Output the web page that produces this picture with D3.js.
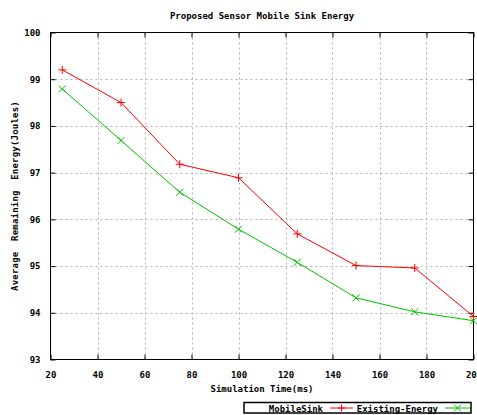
<!DOCTYPE html>
<html lang="en">
	<head>
		<meta charset="utf-8">
		<title>Proposed Sensor Mobile Sink Energy</title>
		<style type="text/css">
		body {
			background-color: white;
			margin: 0px;
			padding: 0px;
		}
		svg text {
			font-family: 'DejaVu Sans Mono', monospace;
			font-weight: bold;
			font-size: 9px;
			fill: black;
		}
		.grid line {
			stroke: #b4b4b4;
			stroke-dasharray: 2,3;
		}
		</style>
	</head>
	<body>
		<div id="chart"></div>
		<script src="https://d3js.org/d3.v7.min.js"></script>
		<script type="text/javascript">

			const times = [25, 50, 75, 100, 125, 150, 175, 200];
			const mobileSink = [99.2, 98.5, 97.18, 96.89, 95.69, 95.01, 94.96, 93.92];
			const existingEnergy = [98.79, 97.69, 96.58, 95.79, 95.08, 94.32, 94.02, 93.83];
			const xTicks = [20, 40, 60, 80, 100, 120, 140, 160, 180, 200];
			const yTicks = [93, 94, 95, 96, 97, 98, 99, 100];

			const width = 477,
			    height = 415,
			    plotLeft = 50.5, plotRight = 473.5, plotTop = 32.5, plotBottom = 359.5;

			const svg = d3.select("#chart")
			    .append("svg")
			    .attr("width", width)
			    .attr("height", height);

			const xScale = d3.scaleLinear()
			    .domain([20, 200])
			    .range([plotLeft, plotRight]);

			const yScale = d3.scaleLinear()
			    .domain([93, 100])
			    .range([plotBottom, plotTop]);

			// dotted grid
			const grid = svg.append("g").attr("class", "grid");
			grid.selectAll(null)
			    .data(xTicks.slice(1, -1))
			    .enter()
			    .append("line")
			    .attr("x1", function(d){ return Math.round(xScale(d)) + 0.5; })
			    .attr("x2", function(d){ return Math.round(xScale(d)) + 0.5; })
			    .attr("y1", plotTop)
			    .attr("y2", plotBottom);
			grid.selectAll(null)
			    .data(yTicks.slice(1, -1))
			    .enter()
			    .append("line")
			    .attr("y1", function(d){ return Math.round(yScale(d)) + 0.5; })
			    .attr("y2", function(d){ return Math.round(yScale(d)) + 0.5; })
			    .attr("x1", plotLeft)
			    .attr("x2", plotRight);

			// axes with inward ticks on all four sides
			const xAxisBottom = d3.axisBottom(xScale).tickValues(xTicks).tickSizeInner(-5).tickSizeOuter(0).tickPadding(12).tickFormat(d3.format("d"));
			const xAxisTop = d3.axisTop(xScale).tickValues(xTicks).tickSizeInner(-5).tickSizeOuter(0).tickFormat("");
			const yAxisLeft = d3.axisLeft(yScale).tickValues(yTicks).tickSizeInner(-5).tickSizeOuter(0).tickPadding(10).tickFormat(d3.format("d"));
			const yAxisRight = d3.axisRight(yScale).tickValues(yTicks).tickSizeInner(-5).tickSizeOuter(0).tickFormat("");

			function styleAxis(g){
				g.select(".domain").remove();
				g.selectAll("line").attr("stroke", "black");
				g.selectAll("text").style("font-size", "9px").style("font-family", "'DejaVu Sans Mono', monospace").style("font-weight", "bold");
			}

			svg.append("g").attr("transform", "translate(0," + plotBottom + ")").call(xAxisBottom).call(styleAxis);
			svg.append("g").attr("transform", "translate(0," + plotTop + ")").call(xAxisTop).call(styleAxis);
			svg.append("g").attr("transform", "translate(" + plotLeft + ",0)").call(yAxisLeft).call(styleAxis);
			svg.append("g").attr("transform", "translate(" + plotRight + ",0)").call(yAxisRight).call(styleAxis);

			svg.append("rect")
			    .attr("x", plotLeft)
			    .attr("y", plotTop)
			    .attr("width", plotRight - plotLeft)
			    .attr("height", plotBottom - plotTop)
			    .attr("fill", "none")
			    .attr("stroke", "black");

			const series = [
				{name: "MobileSink", values: mobileSink, color: "#ff0000", marker: "plus"},
				{name: "Existing-Energy", values: existingEnergy, color: "#00c000", marker: "cross"}
			];

			const line = d3.line()
			    .x(function(d){ return xScale(d[0]); })
			    .y(function(d){ return yScale(d[1]); });

			function markerPath(kind, x, y, s){
				if (kind === "plus") {
					return "M" + (x - s) + "," + y + "H" + (x + s) + "M" + x + "," + (y - s) + "V" + (y + s);
				}
				return "M" + (x - s) + "," + (y - s) + "L" + (x + s) + "," + (y + s) +
				    "M" + (x - s) + "," + (y + s) + "L" + (x + s) + "," + (y - s);
			}

			series.forEach(function(s){
				const pts = times.map(function(t, i){ return [t, s.values[i]]; });
				svg.append("path")
				    .datum(pts)
				    .attr("fill", "none")
				    .attr("stroke", s.color)
				    .attr("stroke-width", 1)
				    .attr("d", line);
				svg.selectAll(null)
				    .data(pts)
				    .enter()
				    .append("path")
				    .attr("fill", "none")
				    .attr("stroke", s.color)
				    .attr("stroke-width", 1)
				    .attr("d", function(d){ return markerPath(s.marker, xScale(d[0]), yScale(d[1]), s.marker === "plus" ? 4 : 3.5); });
			});

			// titles
			svg.append("text")
			    .attr("x", 262)
			    .attr("y", 19)
			    .attr("text-anchor", "middle")
			    .text("Proposed Sensor Mobile Sink Energy");

			svg.append("text")
			    .attr("x", 262)
			    .attr("y", 392)
			    .attr("text-anchor", "middle")
			    .text("Simulation Time(ms)");

			svg.append("text")
			    .attr("transform", "translate(18,196) rotate(-90)")
			    .attr("text-anchor", "middle")
			    .style("word-spacing", "5px")
			    .style("letter-spacing", "0.2px")
			    .text("Average Remaining Energy(Joules)");

			// legend
			const legend = svg.append("g");
			legend.append("rect")
			    .attr("x", 244)
			    .attr("y", 402.5)
			    .attr("width", 227)
			    .attr("height", 10.5)
			    .attr("fill", "white")
			    .attr("stroke", "black")
			    .attr("stroke-width", 1.5);

			const legendItems = [
				{textEnd: 323, lineX: [330, 353]},
				{textEnd: 438, lineX: [445, 470]}
			];
			series.forEach(function(s, i){
				const it = legendItems[i];
				const ly = 408;
				legend.append("text")
				    .attr("x", it.textEnd)
				    .attr("y", ly + 3.5)
				    .attr("text-anchor", "end")
				    .text(s.name);
				legend.append("line")
				    .attr("x1", it.lineX[0])
				    .attr("x2", it.lineX[1])
				    .attr("y1", ly)
				    .attr("y2", ly)
				    .attr("stroke", s.color);
				legend.append("path")
				    .attr("fill", "none")
				    .attr("stroke", s.color)
				    .attr("d", markerPath(s.marker, (it.lineX[0] + it.lineX[1]) / 2, ly, 3.5));
			});

		</script>
	</body>
</html>
